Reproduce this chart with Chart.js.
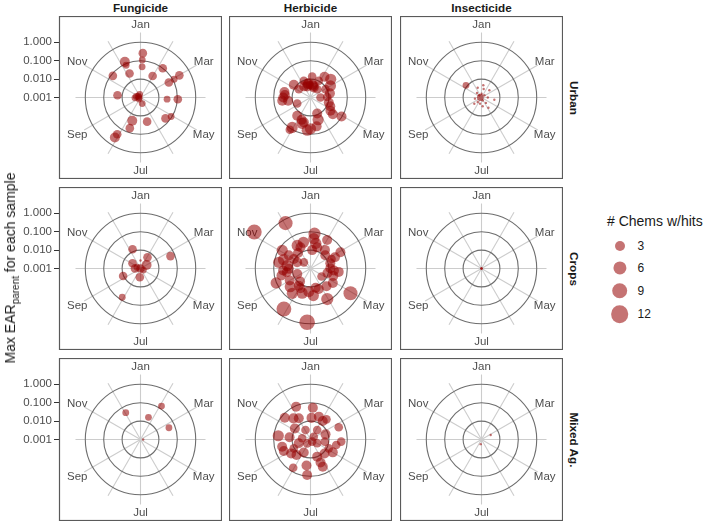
<!DOCTYPE html>
<html>
<head>
<meta charset="utf-8">
<script src="https://cdn.jsdelivr.net/npm/chart.js@4.4.1/dist/chart.umd.min.js"></script>
<style>
  body { margin: 0; background: #fff; font-family: "Liberation Sans", Arial, sans-serif; }
  #wrap { position: relative; width: 708px; height: 523px; overflow: hidden; }
  #wrap canvas { position: absolute; }
  .lab { position: absolute; white-space: nowrap; transform: translate(-50%, -50%); }
  .strip { font-weight: bold; font-size: 11.7px; color: #1a1a1a; }
  .key { position: absolute; border-radius: 50%; transform: translate(-50%, -50%); }
</style>
</head>
<body>
<div id="wrap"></div>
<script>
// facets
const pesticideClasses = ["Fungicide", "Herbicide", "Insecticide"];
const landUses = ["Urban", "Crops", "Mixed Ag."];
const monthNames = ["Jan", "Feb", "Mar", "Apr", "May", "Jun", "Jul", "Aug", "Sep", "Oct", "Nov", "Dec"];
const monthLabels = ["Jan", "Mar", "May", "Jul", "Sep", "Nov"];
const earTicks = [0.001, 0.01, 0.1, 1];
const legendCounts = [3, 6, 9, 12];

// each row: [month (1 = Jan 1st), max EAR, # chems w/hits]
const fungicideUrban = [
  [1.1, 0.26, 2], [1.09, 0.11, 1], [1.1, 0.047, 1], [12.21, 0.13, 3], [12.2, 0.083, 1],
  [11.27, 0.081, 2], [12.18, 0.027, 2], [1.98, 0.022, 2], [2.24, 0.1, 2], [3.01, 0.27, 2],
  [3.05, 0.12, 1], [3.07, 0.055, 2], [10.19, 0.018, 2], [10.47, 0.0017, 1], [10.0, 0.0012, 1],
  [9.9, 0.002, 1], [11.0, 0.0014, 1], [12.5, 0.0015, 1], [8.5, 0.0013, 1], [6.47, 0.0022, 1],
  [4.12, 0.028, 1], [4.09, 0.107, 2], [5.33, 0.059, 2], [5.06, 0.091, 1], [7.65, 0.022, 3],
  [6.49, 0.023, 2], [7.64, 0.058, 2], [8.08, 0.23, 2], [8.09, 0.38, 3]
];
const herbicideUrban = [
  [2.13, 0.023, 3], [2.99, 0.018, 4], [1.15, 0.014, 2], [1.88, 0.0102, 2], [12.27, 0.0095, 2],
  [11.24, 0.0138, 3], [12.44, 0.0042, 3], [1.61, 0.0037, 3], [2.3, 0.0038, 2], [3.03, 0.0085, 2],
  [11.18, 0.006, 2], [10.18, 0.025, 3], [9.78, 0.035, 3], [9.72, 0.017, 3], [9.19, 0.0062, 2],
  [4.0, 0.0035, 2], [3.95, 0.0081, 2], [4.51, 0.0107, 3], [5.12, 0.02, 3], [5.23, 0.033, 3],
  [5.05, 0.095, 3], [6.24, 0.0087, 3], [6.37, 0.019, 4], [7.19, 0.061, 4], [7.73, 0.02, 3],
  [8.2, 0.017, 3], [8.05, 0.081, 4], [8.09, 0.12, 2], [7.5, 0.025, 3], [12.0, 0.005, 3],
  [12.7, 0.006, 3], [1.5, 0.0045, 3], [12.6, 0.0055, 3], [1.3, 0.005, 3], [12.9, 0.0048, 2],
  [10.4, 0.028, 3], [10.0, 0.03, 3], [7.6, 0.03, 4], [7.0, 0.05, 4], [6.6, 0.04, 3],
  [4.8, 0.015, 3], [3.6, 0.012, 3], [2.6, 0.03, 4]
];
const insecticideUrban = [
  [11.27, 0.0118, 1], [12.29, 0.0037, 0], [1.28, 0.0047, 0], [2.58, 0.0038, 0], [11.5, 0.0022, 0],
  [1.05, 0.0016, 0], [2.73, 0.0016, 0], [10.0, 0.00116, 1], [9.67, 0.0023, 0], [4.0, 0.0022, 0],
  [6.23, 0.0015, 0], [8.33, 0.0021, 0], [7.45, 0.0022, 0], [5.69, 0.0024, 0], [4.33, 0.0051, 0],
  [5.87, 0.0047, 0], [6.74, 0.003, 0], [8.63, 0.0033, 0], [1.48, 0.003, 0], [11.5, 0.0015, 0]
];
const fungicideCrops = [
  [12.25, 0.0135, 2], [1.0, 0.0027, 0], [2.07, 0.0052, 2], [2.99, 0.0024, 3], [3.25, 0.058, 2],
  [11.1, 0.0033, 2], [10.0, 0.002, 2], [8.0, 0.001, 2], [4.97, 0.0015, 1], [7.15, 0.003, 2],
  [9.22, 0.0107, 2], [8.08, 0.071, 1], [10.7, 0.0016, 1]
];
const herbicideCrops = [
  [12.04, 0.65, 7], [11.1, 4.4, 8], [1.22, 0.08, 5], [1.21, 0.043, 4], [12.0, 0.028, 4],
  [12.16, 0.019, 3], [1.58, 0.016, 3], [2.26, 0.019, 3], [2.01, 0.062, 3], [3.05, 0.071, 3],
  [3.18, 0.029, 3], [3.19, 0.018, 2], [11.09, 0.067, 4], [11.04, 0.024, 3], [10.99, 0.011, 3],
  [10.37, 0.057, 4], [10.24, 0.019, 4], [9.97, 0.015, 3], [9.86, 0.031, 3], [9.55, 0.042, 3],
  [9.25, 0.006, 3], [9.24, 0.106, 4], [11.43, 0.0031, 2], [4.16, 0.019, 3], [4.23, 0.035, 3],
  [3.97, 0.012, 3], [5.2, 0.0055, 2], [5.1, 0.028, 3], [5.06, 0.36, 7], [6.04, 0.078, 5],
  [6.27, 0.016, 3], [7.14, 0.018, 4], [8.14, 0.0135, 3], [8.21, 0.047, 4], [7.62, 0.026, 4],
  [8.11, 0.43, 8], [7.12, 0.85, 9], [1.17, 0.0101, 3], [10.83, 0.0063, 3], [12.5, 0.03, 4],
  [1.4, 0.025, 4], [2.6, 0.012, 3], [3.5, 0.013, 3], [11.7, 0.012, 3], [10.6, 0.035, 4],
  [9.7, 0.02, 3], [9.0, 0.02, 3], [8.6, 0.03, 4], [7.9, 0.016, 3], [6.8, 0.03, 4],
  [6.5, 0.012, 3], [5.6, 0.02, 3], [4.6, 0.02, 3], [4.5, 0.009, 3], [8.3, 0.008, 3]
];
const insecticideCrops = [[4.0, 0.001, 0], [7.0, 0.001, 0], [10.0, 0.001, 0]];
const fungicideMixed = [
  [12.04, 0.046, 1], [1.66, 0.019, 1], [2.07, 0.14, 1], [3.25, 0.047, 1], [4.0, 0.0014, 0]
];
const herbicideMixed = [
  [12.21, 0.089, 3], [1.14, 0.054, 3], [11.34, 0.068, 3], [12.04, 0.021, 3], [1.09, 0.015, 3],
  [1.67, 0.021, 3], [2.12, 0.016, 3], [2.28, 0.025, 2], [3.22, 0.047, 2], [11.18, 0.011, 3],
  [10.22, 0.058, 4], [10.2, 0.014, 3], [9.52, 0.039, 3], [9.22, 0.038, 3], [8.4, 0.0137, 3],
  [7.92, 0.0062, 3], [8.05, 0.063, 2], [7.29, 0.027, 3], [7.18, 0.087, 3], [6.29, 0.01, 3],
  [6.21, 0.023, 3], [6.19, 0.042, 3], [5.0, 0.025, 3], [4.86, 0.0127, 2], [4.4, 0.027, 2],
  [4.13, 0.047, 2], [3.37, 0.0073, 3], [2.17, 0.0043, 2], [12.07, 0.0038, 2], [5.73, 0.0014, 2],
  [4.99, 0.0026, 2], [10.27, 0.0029, 2], [9.4, 0.0047, 3], [8.37, 0.0019, 2], [4.29, 0.0061, 2],
  [2.66, 0.0017, 2], [9.07, 0.0107, 2], [11.7, 0.03, 3], [8.8, 0.02, 3], [5.5, 0.012, 3]
];
const insecticideMixed = [[3.13, 0.0036, 0], [7.33, 0.0018, 0]];

const panels = [
  [fungicideUrban, herbicideUrban, insecticideUrban],
  [fungicideCrops, herbicideCrops, insecticideCrops],
  [fungicideMixed, herbicideMixed, insecticideMixed]
];

// layout
const PANEL = 163;
const colLeft = [59, 229, 400];
const rowTop = [16, 187, 358];
const AXIS_W = 59;
const PX_PER_DECADE = 18.4;
const HALF = PANEL / 2 / PX_PER_DECADE;
const SPOKE_R = 65 / PX_PER_DECADE;
const LABEL_R = 73 / PX_PER_DECADE;
const EAR_MIN = earTicks[0];
const pointColor = "rgba(150,0,0,0.55)";
const textGrey = "#4d4d4d";

function sizeFor(n) {
  return 1.2 + 2.2 * Math.sqrt(n);
}
function decades(ear) {
  return Math.max(0, Math.log10(ear / EAR_MIN));
}
function toPoint(row) {
  const r = decades(row[1]);
  const th = (row[0] - 1) / 12 * Math.PI * 2;
  return { x: r * Math.sin(th), y: r * Math.cos(th), r: sizeFor(row[2]) };
}

const polarGrid = {
  id: "polarGrid",
  beforeDatasetsDraw(chart) {
    const { ctx, chartArea: a, scales: { x, y } } = chart;
    const cx = x.getPixelForValue(0), cy = y.getPixelForValue(0);
    const unit = x.getPixelForValue(1) - cx;
    ctx.save();
    // month spokes
    ctx.strokeStyle = "#cccccc";
    ctx.lineWidth = 1.1;
    monthNames.forEach((m, i) => {
      const th = i / 12 * Math.PI * 2;
      ctx.beginPath();
      ctx.moveTo(cx, cy);
      ctx.lineTo(cx + SPOKE_R * unit * Math.sin(th), cy - SPOKE_R * unit * Math.cos(th));
      ctx.stroke();
    });
    // EAR rings
    ctx.strokeStyle = "#6e6e6e";
    ctx.lineWidth = 1.1;
    earTicks.forEach(t => {
      const r = decades(t) * unit;
      if (r <= 0) return;
      ctx.beginPath();
      ctx.arc(cx, cy, r, 0, Math.PI * 2);
      ctx.stroke();
    });
    // month labels
    ctx.fillStyle = textGrey;
    ctx.font = "11.5px 'Liberation Sans', Arial, sans-serif";
    ctx.textAlign = "center";
    ctx.textBaseline = "middle";
    monthLabels.forEach(m => {
      const th = monthNames.indexOf(m) / 12 * Math.PI * 2;
      ctx.fillText(m, cx + LABEL_R * unit * Math.sin(th), cy - LABEL_R * unit * Math.cos(th) + 0.5);
    });
    // panel border
    ctx.strokeStyle = "#5a5a5a";
    ctx.lineWidth = 1.2;
    ctx.strokeRect(a.left + 0.5, a.top + 0.5, a.width - 1, a.height - 1);
    ctx.restore();
  }
};

const wrap = document.getElementById("wrap");

panels.forEach((rowData, ri) => {
  rowData.forEach((rows, ci) => {
    const withAxis = ci === 0;
    const canvas = document.createElement("canvas");
    const w = PANEL + (withAxis ? AXIS_W : 0);
    canvas.width = w;
    canvas.height = PANEL;
    canvas.style.left = (colLeft[ci] - (withAxis ? AXIS_W : 0)) + "px";
    canvas.style.top = rowTop[ri] + "px";
    wrap.appendChild(canvas);

    new Chart(canvas.getContext("2d"), {
      type: "bubble",
      data: {
        datasets: [{
          label: pesticideClasses[ci] + " / " + landUses[ri],
          data: rows.map(toPoint),
          backgroundColor: pointColor,
          borderWidth: 0,
          hoverBorderWidth: 0
        }]
      },
      options: {
        responsive: false,
        animation: false,
        devicePixelRatio: 1,
        events: [],
        layout: { padding: 0, autoPadding: false },
        plugins: { legend: { display: false }, tooltip: { enabled: false } },
        scales: {
          x: { type: "linear", display: false, min: -HALF, max: HALF },
          y: {
            type: "linear",
            display: withAxis,
            min: -HALF,
            max: HALF,
            afterBuildTicks(s) {
              s.ticks = earTicks.map(t => ({ value: decades(t) }));
            },
            afterFit(s) {
              s.width = withAxis ? AXIS_W : 0;
              s.paddingTop = 0;
              s.paddingBottom = 0;
            },
            ticks: {
              callback: v => (EAR_MIN * Math.pow(10, v)).toFixed(3),
              color: textGrey,
              font: { family: "'Liberation Sans', Arial, sans-serif", size: 11.5 },
              padding: 2
            },
            grid: { drawOnChartArea: false, drawTicks: true, tickLength: 5, color: "#333", lineWidth: 1 },
            border: { display: false }
          }
        }
      },
      plugins: [polarGrid]
    });
  });
});

// strip labels
pesticideClasses.forEach((c, i) => {
  const d = document.createElement("div");
  d.className = "lab strip";
  d.textContent = c;
  d.style.left = (colLeft[i] + PANEL / 2) + "px";
  d.style.top = "7px";
  wrap.appendChild(d);
});
landUses.forEach((u, i) => {
  const d = document.createElement("div");
  d.className = "lab strip";
  d.textContent = u;
  d.style.left = "574px";
  d.style.top = (rowTop[i] + PANEL / 2) + "px";
  d.style.transform = "translate(-50%, -50%) rotate(90deg)";
  wrap.appendChild(d);
});

// y axis title
const yt = document.createElement("div");
yt.className = "lab";
yt.style.left = "10px";
yt.style.top = "268px";
yt.style.fontSize = "14px";
yt.style.color = "#1a1a1a";
yt.style.transform = "translate(-50%, -50%) rotate(-90deg)";
yt.innerHTML = 'Max EAR<span style="font-size:10px;position:relative;top:4px">parent</span> for each sample';
wrap.appendChild(yt);

// size legend
const lt = document.createElement("div");
lt.className = "lab";
lt.style.transform = "translate(0, -50%)";
lt.style.left = "607px";
lt.style.top = "221px";
lt.style.fontSize = "14px";
lt.style.color = "#1a1a1a";
lt.textContent = "# Chems w/hits";
wrap.appendChild(lt);

const keyY = [245.5, 268, 290.5, 314];
legendCounts.forEach((n, i) => {
  const r = sizeFor(n);
  const k = document.createElement("div");
  k.className = "key";
  k.style.left = "619.5px";
  k.style.top = keyY[i] + "px";
  k.style.width = (2 * r) + "px";
  k.style.height = (2 * r) + "px";
  k.style.background = pointColor;
  wrap.appendChild(k);
  const t = document.createElement("div");
  t.className = "lab";
  t.style.transform = "translate(0, -50%)";
  t.style.left = "637.5px";
  t.style.top = keyY[i] + "px";
  t.style.fontSize = "12px";
  t.style.color = "#1a1a1a";
  t.textContent = n;
  wrap.appendChild(t);
});
</script>
</body>
</html>
